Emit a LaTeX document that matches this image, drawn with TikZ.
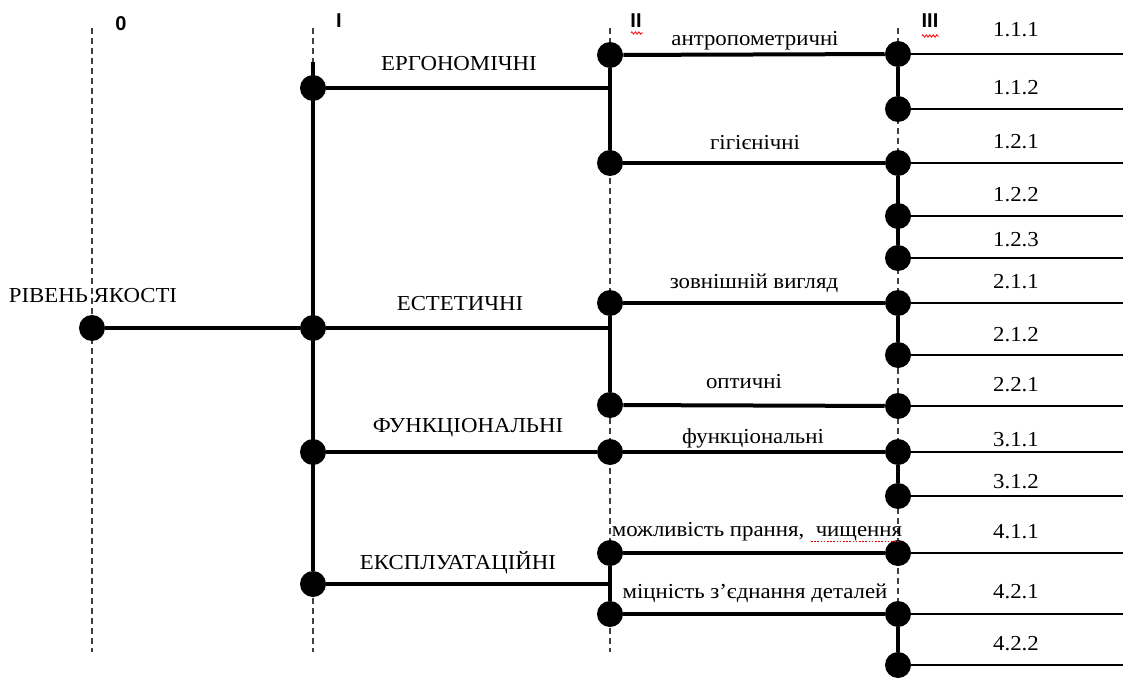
\documentclass[tikz,border=0pt]{standalone}
\usepackage{fontspec}
\setmainfont[FakeStretch=1.07]{Liberation Serif}
\newfontfamily\lvlfont{Liberation Sans}
\usetikzlibrary{decorations.pathmorphing}
\begin{document}
\begin{tikzpicture}[x=0.75pt,y=-0.75pt,
  dot/.style={circle,fill=black,inner sep=0pt,minimum size=19.5pt},
  guide/.style={dash pattern=on 4.5pt off 3pt,line width=0.9pt,black!75},
  bar/.style={line width=3pt},
  leaf/.style={line width=1.7pt},
  lbl/.style={font=\fontsize{16}{18}\selectfont,inner sep=0pt},
  lvl/.style={font=\lvlfont\bfseries\fontsize{15}{17}\selectfont,inner sep=0pt},
  squig/.style={red,line width=0.6pt,decorate,decoration={zigzag,amplitude=0.9pt,segment length=2.6pt}}
]
\useasboundingbox (0,0) rectangle (1123,684);
% guide lines
\foreach \n/\x in {g0/92,g1/313,g2/610,g3/898}{
  \coordinate (\n t) at (\x,28);
  \coordinate (\n b) at (\x,652);
  \draw[guide] (\n t) -- (\n b);
}
% level labels
\node[lvl] (lv0) at (121,24) {0};
\node[lvl] (lv1) at (339,21) {I};
\node[lvl] (lv2) at (636,21) {II};
\node[lvl] (lv3) at (930,21) {III};
\coordinate (s2a) at (631,33); \coordinate (s2b) at (643,33);
\coordinate (s3a) at (922,36); \coordinate (s3b) at (939,36);
\draw[squig] (s2a) -- (s2b);
\draw[squig] (s3a) -- (s3b);
% dots
\node[dot] (r) at (92,328) {};
\node[dot] (i1) at (313,88) {};
\node[dot] (i2) at (313,328) {};
\node[dot] (i3) at (313,452) {};
\node[dot] (i4) at (313,584) {};
\coordinate (itop) at (313,62);
\node[dot] (a1) at (610,55) {};
\node[dot] (a2) at (610,163) {};
\node[dot] (b1) at (610,303) {};
\node[dot] (b2) at (610,405) {};
\node[dot] (c1) at (610,452) {};
\node[dot] (d1) at (610,553) {};
\node[dot] (d2) at (610,614) {};
\coordinate (ja) at (610,88);
\coordinate (jb) at (610,328);
\coordinate (jd) at (610,584);
\foreach \k/\y in {1/54,2/109,3/163,4/216,5/258,6/303,7/355,8/406,9/452,10/496,11/553,12/614,13/665}{
  \node[dot] (t\k) at (898,\y) {};
  \coordinate (e\k) at (1123,\y);
  \draw[leaf] (t\k) -- (e\k);
}
% level 0 -> I
\draw[bar] (r) -- (i2);
\draw[bar] (itop) -- (i4);
% I -> II
\draw[bar] (i1) -- (ja);
\draw[bar] (a1) -- (a2);
\draw[bar] (i2) -- (jb);
\draw[bar] (b1) -- (b2);
\draw[bar] (i3) -- (c1);
\draw[bar] (i4) -- (jd);
\draw[bar] (d1) -- (d2);
% II -> III
\draw[bar] (a1) -- (t1);
\draw[bar] (a2) -- (t3);
\draw[bar] (b1) -- (t6);
\draw[bar] (b2) -- (t8);
\draw[bar] (c1) -- (t9);
\draw[bar] (d1) -- (t11);
\draw[bar] (d2) -- (t12);
% III verticals
\draw[bar] (t1) -- (t2);
\draw[bar] (t3) -- (t5);
\draw[bar] (t6) -- (t7);
\draw[bar] (t9) -- (t10);
\draw[bar] (t12) -- (t13);
% labels
\node[lbl] (n0) at (93,296) {РІВЕНЬ ЯКОСТІ};
\node[lbl] (n1) at (459,64) {ЕРГОНОМІЧНІ};
\node[lbl] (n2) at (460,304) {ЕСТЕТИЧНІ};
\node[lbl] (n3) at (468,428) {ФУНКЦІОНАЛЬНІ};
\node[lbl] (n4) at (458,563) {ЕКСПЛУАТАЦІЙНІ};
\node[lbl] (m1) at (755,41) {антропометричні};
\node[lbl] (m2) at (755,143) {гігієнічні};
\node[lbl] (m3) at (754,283) {зовнішній вигляд};
\node[lbl] (m4) at (744,382) {оптичні};
\node[lbl] (m5) at (753,438) {функціональні};
\node[lbl] (m6) at (757,532) {можливість прання,\ \ чищення};
\node[lbl] (m7) at (755,593) {міцність з’єднання\ деталей};
\coordinate (ua) at (811,541); \coordinate (ub) at (900,541);
\draw[red!85!black,line width=0.7pt,dash pattern=on 1.2pt off 1.2pt] (ua) -- (ub);
\foreach \k/\y/\t in {1/30/1.1.1,2/88/1.1.2,3/142/1.2.1,4/195/1.2.2,5/240/1.2.3,6/282/2.1.1,7/335/2.1.2,8/385/2.2.1,9/440/3.1.1,10/482/3.1.2,11/532/4.1.1,12/592/4.2.1,13/644/4.2.2}{
  \node[lbl] (q\k) at (1016,\y) {\t};
}
\end{tikzpicture}
\end{document}
